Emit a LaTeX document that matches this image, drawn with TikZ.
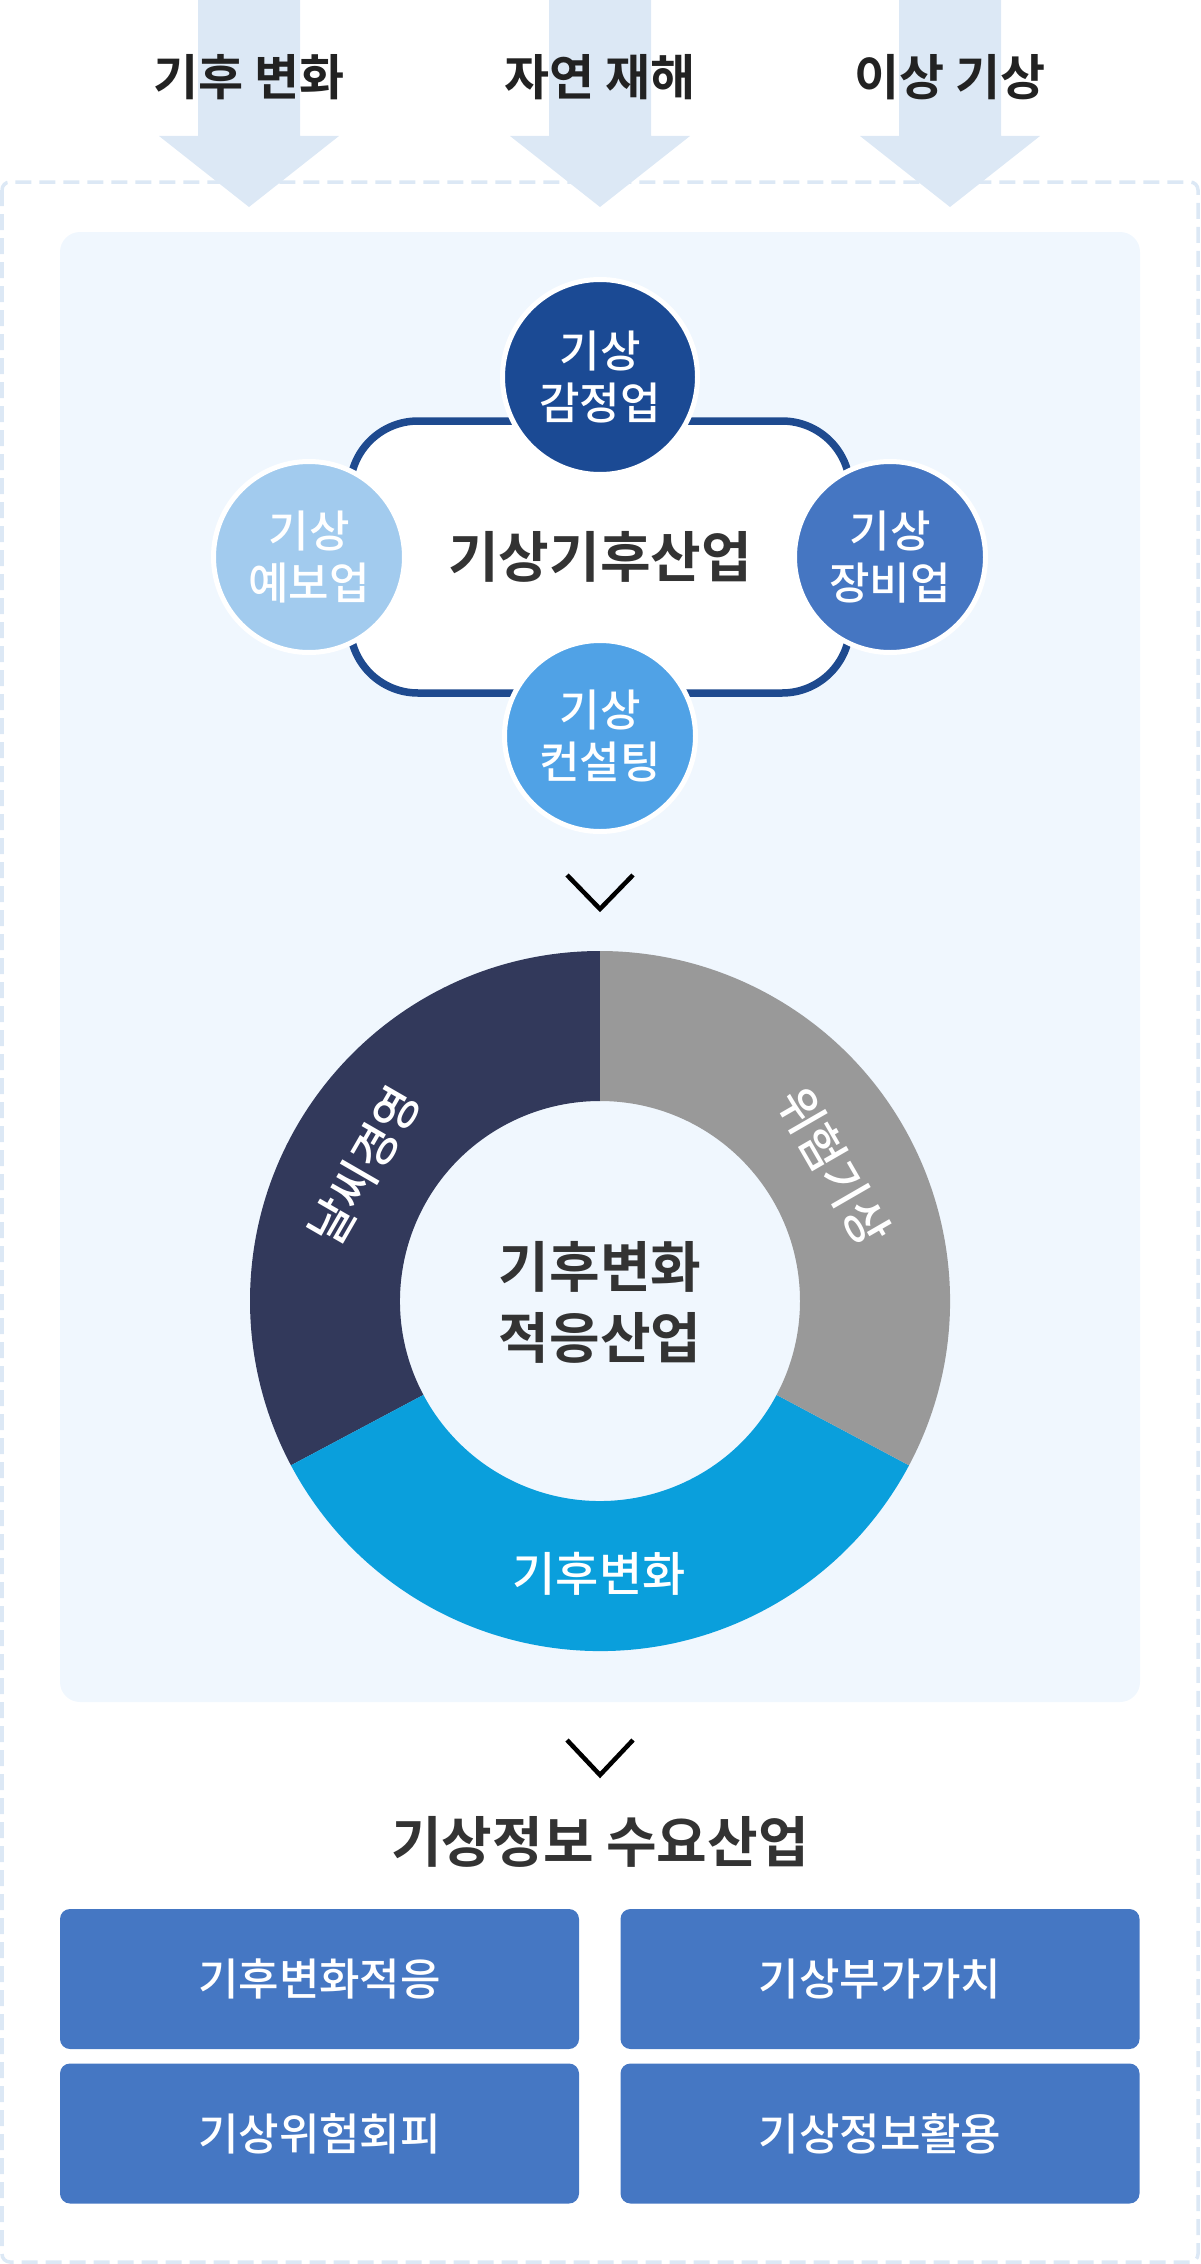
\documentclass[tikz,border=0pt]{standalone}
\usepackage{fontspec}
\setmainfont{Noto Sans CJK KR}[BoldFont={Noto Sans CJK KR Bold}]
\newfontfamily\krmed{Noto Sans CJK KR Medium}
\definecolor{arrowc}{HTML}{DCE8F5}
\definecolor{dashc}{HTML}{DCE8F5}
\definecolor{panelc}{HTML}{F0F7FE}
\definecolor{outc}{HTML}{1E4A8F}
\definecolor{ctop}{HTML}{1B4A94}
\definecolor{cleft}{HTML}{A2CBEE}
\definecolor{cright}{HTML}{4576C2}
\definecolor{cbot}{HTML}{50A2E6}
\definecolor{dnavy}{HTML}{32395B}
\definecolor{dgray}{HTML}{999999}
\definecolor{dblue}{HTML}{0A9FDC}
\definecolor{boxc}{HTML}{4577C3}
\definecolor{darktext}{HTML}{333333}
\definecolor{toptext}{HTML}{222222}
\begin{document}
\begin{tikzpicture}[x=1pt,y=-1pt,
  every node/.style={inner sep=0pt, outer sep=0pt},
  toplabel/.style={font=\bfseries\fontsize{49}{58}\selectfont, text=toptext},
  bigbold/.style={font=\bfseries\fontsize{55}{71}\selectfont, text=darktext, align=center},
  bubble/.style={circle, draw=white, line width=5, text=white, align=center, font=\krmed\fontsize{44}{52}\selectfont},
  ringlabel/.style={text=white, font=\krmed\fontsize{47}{55}\selectfont},
  demandbox/.style={rectangle, rounded corners=10, fill=boxc, text=white, minimum width=519, minimum height=140, font=\krmed\fontsize{44}{52}\selectfont},
  chevron/.style={line width=4.5, black}]
\useasboundingbox (0,0) rectangle (1200,2264);
% outer dashed frame
\draw[dashc, line width=3.5, dash pattern=on 16 off 8, rounded corners=8] (2,182) rectangle (1198,2262);
% inner panel
\fill[panelc, rounded corners=20] (60,232) rectangle (1140,1702);
% top arrows
\foreach \cx in {249,600,950} {
  \fill[arrowc] (\cx-51,0) -- (\cx+51,0) -- (\cx+51,136) -- (\cx+90,136) -- (\cx,207) -- (\cx-90,136) -- (\cx-51,136) -- cycle;
}
\node[toplabel] (t1) at (249,77) {기후 변화};
\node[toplabel] (t2) at (600,77) {자연 재해};
\node[toplabel] (t3) at (950,77) {이상 기상};
% industry cluster
\draw[outc, line width=7.5, fill=white, rounded corners=68] (350,421) rectangle (850,693);
\node[bigbold] (core) at (600,557) {기상기후산업};
\node[bubble, fill=ctop, minimum size=195] (btop) at (600,377) {기상\\감정업};
\node[bubble, fill=cleft, minimum size=191] (bleft) at (309,557) {기상\\예보업};
\node[bubble, fill=cright, minimum size=191] (bright) at (890,557) {기상\\장비업};
\node[bubble, fill=cbot, minimum size=191] (bbot) at (600,736) {기상\\컨설팅};
% chevron 1
\coordinate (c1a) at (567,875);
\coordinate (c1b) at (600,909);
\coordinate (c1c) at (633,875);
\draw[chevron] (c1a) -- (c1b) -- (c1c);
% donut
\begin{scope}[shift={(600,1301)}, yscale=-1]
  \fill[dnavy] (90:350) arc[start angle=90, end angle=208, radius=350] -- (208:200) arc[start angle=208, end angle=90, radius=200] -- cycle;
  \fill[dblue] (208:350) arc[start angle=208, end angle=332, radius=350] -- (332:200) arc[start angle=332, end angle=208, radius=200] -- cycle;
  \fill[dgray] (332:350) arc[start angle=332, end angle=450, radius=350] -- (450:200) arc[start angle=450, end angle=332, radius=200] -- cycle;
\end{scope}
\node[ringlabel, rotate=60] (r1) at (364,1166) {날씨경영};
\node[ringlabel, rotate=-60] (r2) at (834,1166) {위험기상};
\node[ringlabel] (r3) at (599,1574) {기후변화};
\node[bigbold] (core2) at (600,1302) {기후변화\\적응산업};
% chevron 2
\coordinate (c2a) at (567,1740);
\coordinate (c2b) at (600,1775);
\coordinate (c2c) at (633,1740);
\draw[chevron] (c2a) -- (c2b) -- (c2c);
% demand industries
\node[bigbold] (title) at (600,1842) {기상정보 수요산업};
\node[demandbox] (d1) at (319.5,1979) {기후변화적응};
\node[demandbox] (d2) at (880,1979) {기상부가가치};
\node[demandbox] (d3) at (319.5,2133.5) {기상위험회피};
\node[demandbox] (d4) at (880,2133.5) {기상정보활용};
\end{tikzpicture}
\end{document}
